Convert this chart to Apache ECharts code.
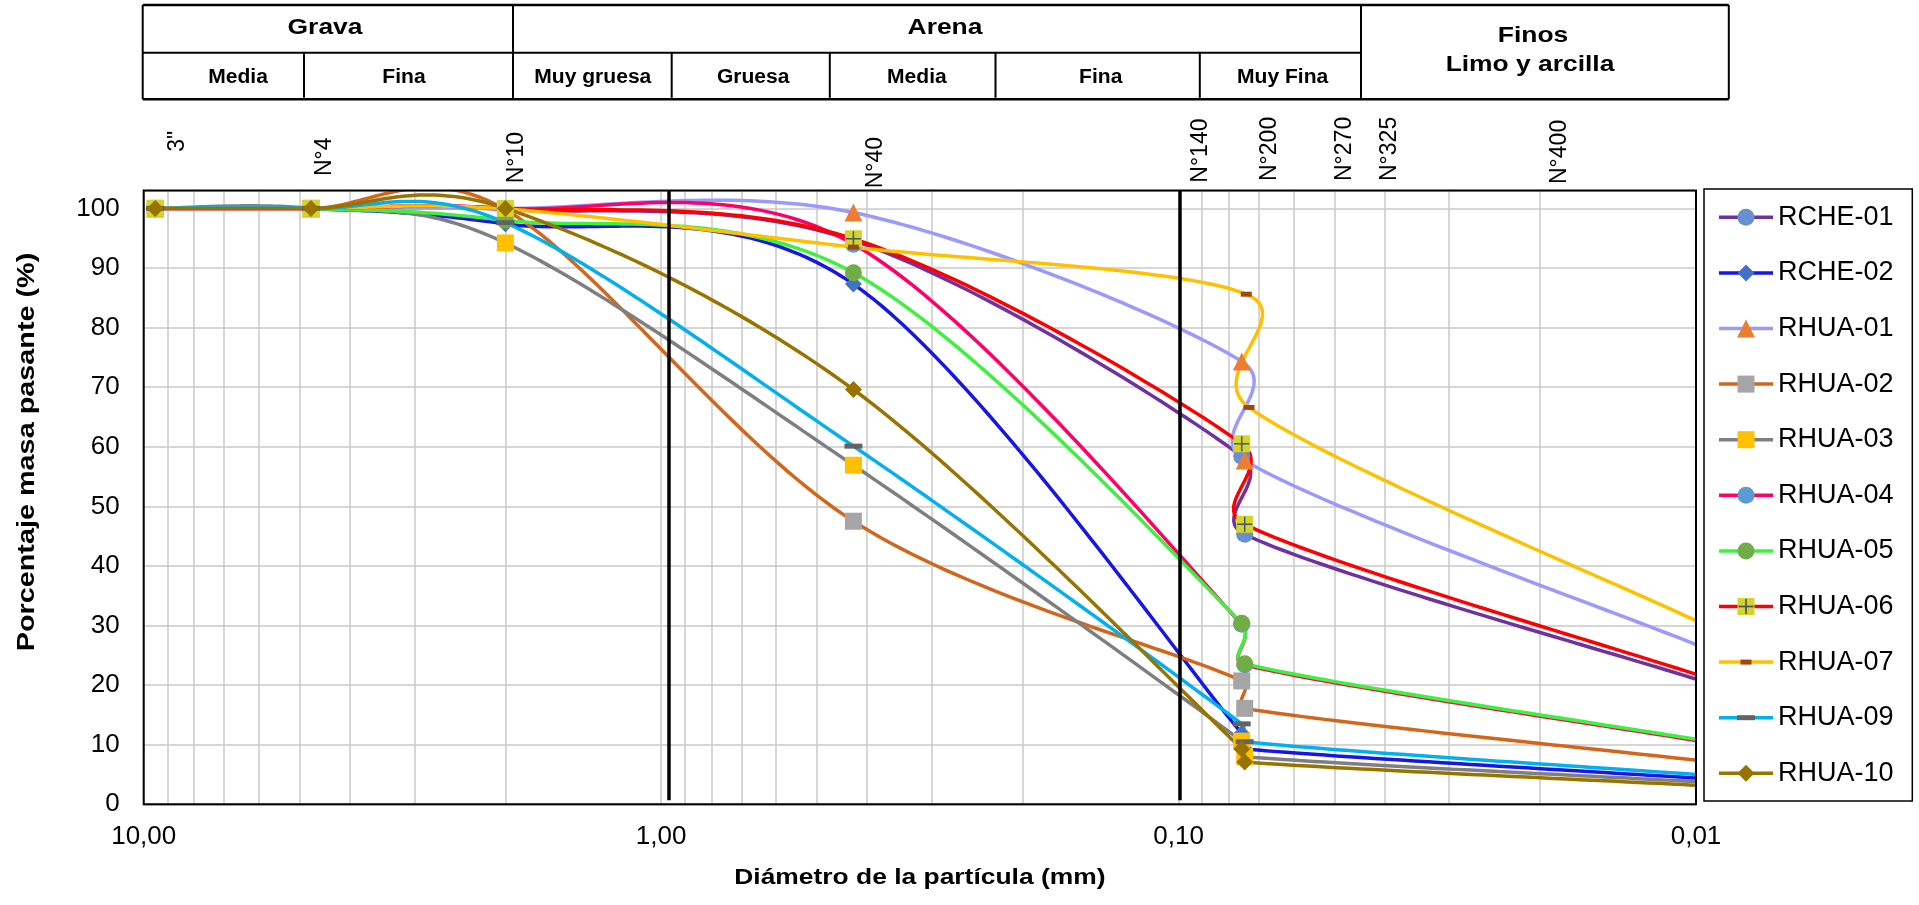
<!DOCTYPE html>
<html>
<head>
<meta charset="utf-8">
<script src="https://cdn.jsdelivr.net/npm/echarts@6/dist/echarts.min.js"></script>
<style>html,body{margin:0;padding:0;background:#fff}#c{width:1919px;height:905px}</style>
</head>
<body>
<div id="c"></div>
<script>
// ---------------- DATA ----------------
const sampleNames = ['RCHE-01','RCHE-02','RHUA-01','RHUA-02','RHUA-03','RHUA-04','RHUA-05','RHUA-06','RHUA-07','RHUA-09','RHUA-10'];
// particle diameters (mm) of the sieves used
const diameters       = [9.5, 4.75, 2.0, 0.425, 0.0755, 0.0745, 0.01];
const diametersRHUA07 = [9.5, 4.75, 2.0, 0.425, 0.0740, 0.0731, 0.01];
// percent passing
const RCHE01 = [100, 100, 99.8, 94.6, 58.4, 45.3, 21.0];
const RCHE02 = [100, 100, 97.4, 87.3, 11.9,  9.3,  4.4];
const RHUA01 = [100, 100, 100,  99.3, 74.3, 57.7, 26.8];
const RHUA02 = [100, 100, 99.8, 47.5, 20.7, 16.1,  7.4];
const RHUA03 = [100, 100, 94.2, 56.9, 10.6,  8.0,  3.8];
const RHUA04 = [100, 100, 100,  94.0, 30.2, 23.4, 10.7];
const RHUA05 = [100, 100, 98.0, 89.2, 30.4, 23.6, 10.9];
const RHUA06 = [100, 100, 100,  94.9, 60.5, 47.0, 21.8];
const RHUA07 = [100, 100, 99.9, 93.5, 85.6, 66.6, 30.8];
const RHUA09 = [100, 100, 97.6, 60.1, 13.5, 10.5,  5.0];
const RHUA10 = [100, 100, 100,  69.6,  9.3,  7.1,  3.2];
const sampleValues = [RCHE01, RCHE02, RHUA01, RHUA02, RHUA03, RHUA04, RHUA05, RHUA06, RHUA07, RHUA09, RHUA10];
const sampleDiameters = [diameters, diameters, diameters, diameters, diameters, diameters, diameters, diameters, diametersRHUA07, diameters, diameters];
// minor log grid lines (mm)
const minorGridDiameters = [2,3,4,5,6,7,8,9, 0.2,0.3,0.4,0.5,0.6,0.7,0.8,0.9, 0.02,0.03,0.04,0.05,0.06,0.07,0.08,0.09];
// black boundary lines (mm)
const boundaryDiameters = [0.965, 0.0993];
// texts
const sieveLabels = ['3"','N°4','N°10','N°40','N°140','N°200','N°270','N°325','N°400'];
const tableTop = ['Grava','Arena'];
const tableSub = ['Media','Fina','Muy gruesa','Gruesa','Media','Fina','Muy Fina'];
const tableFines = ['Finos','Limo y arcilla'];

// ---------------- STYLES / LAYOUT ----------------
const FONT = '"Liberation Sans", Arial, Helvetica, sans-serif';
const W = 1919, H = 905;
const GRID = {left: 143.7, top: 190.5, right: 223, bottom: 100.7};
const LINE_W = 3.5;
const styles = [
  {line:'#7030A0', sym:'circle',   mc:'#6A8ED2', size:17},
  {line:'#1616E6', sym:'diamond',  mc:'#4472C4', size:17},
  {line:'#9999FF', sym:'triangle', mc:'#ED7D31', size:18},
  {line:'#D4661C', sym:'rect',     mc:'#A5A5A5', size:17},
  {line:'#7F7F7F', sym:'rect',     mc:'#FFC000', size:17},
  {line:'#FF0066', sym:'circle',   mc:'#5B9BD5', size:17},
  {line:'#3CF23C', sym:'circle',   mc:'#70AD47', size:17},
  {line:'#FF0000', sym:'rect',     mc:'#D4D42A', size:17, plus:'#44546A'},
  {line:'#FFC000', sym:'rect',     mc:'#9E480E', size:[11,5]},
  {line:'#00B0F0', sym:'rect',     mc:'#636363', size:[18,5]},
  {line:'#997300', sym:'diamond',  mc:'#997300', size:17}
];
const PLUS_PATH = 'path://M0,9L20,9L20,11L0,11Z M9,0L11,0L11,20L9,20Z';

// Excel-like smoothed line (Bezier through points, tension 1/6, capped)
function excelSmooth(pts) {
  const n = pts.length, out = [pts[0]];
  for (let i = 0; i < n - 1; i++) {
    const p0 = pts[Math.max(i - 1, 0)], p1 = pts[i], p2 = pts[i + 1], p3 = pts[Math.min(i + 2, n - 1)];
    const seg = Math.hypot(p2[0] - p1[0], p2[1] - p1[1]);
    let t1 = [(p2[0] - p0[0]) / 6, (p2[1] - p0[1]) / 6];
    let t2 = [(p3[0] - p1[0]) / 6, (p3[1] - p1[1]) / 6];
    const cap = seg / 2;
    const l1 = Math.hypot(t1[0], t1[1]); if (l1 > cap) t1 = [t1[0] * cap / l1, t1[1] * cap / l1];
    const l2 = Math.hypot(t2[0], t2[1]); if (l2 > cap) t2 = [t2[0] * cap / l2, t2[1] * cap / l2];
    const c1 = [p1[0] + t1[0], p1[1] + t1[1]], c2 = [p2[0] - t2[0], p2[1] - t2[1]];
    const N = 40;
    for (let k = 1; k <= N; k++) {
      const t = k / N, u = 1 - t;
      const a = u*u*u, b = 3*u*u*t, c = 3*u*t*t, d = t*t*t;
      out.push([a*p1[0] + b*c1[0] + c*c2[0] + d*p2[0], a*p1[1] + b*c1[1] + c*c2[1] + d*p2[1]]);
    }
  }
  return out;
}

const chart = echarts.init(document.getElementById('c'), null, {renderer: 'canvas', width: W, height: H});

const series = [];
series.push({
  type: 'line', data: [], silent: true, z: 1,
  markLine: {
    silent: true, z: 1, symbol: ['none','none'], label: {show: false}, animation: false,
    lineStyle: {color: '#C9C9C9', width: 1.5, type: 'solid'},
    emphasis: {disabled: true},
    data: minorGridDiameters.map(v => ({xAxis: v}))
  }
});

sampleNames.forEach((name, i) => {
  const xs = sampleDiameters[i], ys = sampleValues[i], st = styles[i];
  const pts = xs.map((x, j) => [x, ys[j]]);
  series.push({
    type: 'custom', name: name, coordinateSystem: 'cartesian2d', silent: true, z: 2,
    data: pts, encode: {x: 0, y: 1},
    renderItem: function (params, api) {
      if (params.dataIndex !== 0) return null;
      const px = pts.map(p => api.coord(p));
      const cs = params.coordSys;
      return {
        type: 'polyline',
        shape: {points: excelSmooth(px)},
        style: {stroke: st.line, lineWidth: LINE_W, fill: 'none', lineJoin: 'round', lineCap: 'round'},
        clipPath: {type: 'rect', shape: {x: cs.x, y: cs.y, width: cs.width, height: cs.height}},
        silent: true
      };
    }
  });
  series.push({
    type: 'line', name: name, data: pts.slice(0, pts.length - 1), silent: true, z: 2,
    symbol: st.sym, symbolSize: st.size, showAllSymbol: true,
    itemStyle: {color: st.mc, borderWidth: 0},
    lineStyle: {opacity: 0, width: 0},
    emphasis: {disabled: true}, animation: false
  });
  if (st.plus) {
    series.push({
      type: 'line', name: name + ' +', data: pts.slice(0, pts.length - 1), silent: true, z: 2,
      symbol: PLUS_PATH, symbolSize: 15, showAllSymbol: true,
      itemStyle: {color: st.plus, borderWidth: 0},
      lineStyle: {opacity: 0, width: 0},
      emphasis: {disabled: true}, animation: false
    });
  }
});

series.push({
  type: 'line', data: [], silent: true, z: 10,
  markLine: {
    silent: true, z: 10, symbol: ['none','none'], label: {show: false}, animation: false,
    lineStyle: {color: '#000', width: 3.5, type: 'solid'},
    emphasis: {disabled: true},
    data: boundaryDiameters.map(v => [{coord: [v, 0.7]}, {coord: [v, 103]}])
  }
});

// ---------------- GRAPHIC (table, sieve labels, titles, legend, frame) ----------------
const g = [];
const plotW = W - GRID.left - GRID.right, plotH = H - GRID.top - GRID.bottom;
function line(x1, y1, x2, y2, w, color, z) {
  g.push({type: 'line', z: z || 50, silent: true, shape: {x1, y1, x2, y2}, style: {stroke: color || '#000', lineWidth: w || 2}});
}
function text(str, x, y, font, opts) {
  opts = opts || {};
  g.push({
    type: 'text', z: 50, silent: true, x: x, y: y,
    rotation: opts.rotation || 0, scaleX: opts.scaleX || 1, scaleY: 1,
    style: {text: str, font: font, fill: '#000', textAlign: opts.align || 'center',
            verticalAlign: 'middle', textVerticalAlign: 'middle'}
  });
}
// plot frame
g.push({type: 'rect', z: 60, silent: true, shape: {x: GRID.left, y: GRID.top, width: plotW, height: plotH},
        style: {fill: 'none', stroke: '#000', lineWidth: 2}});

// table
const TL = 142.7, TR = 1728.8, TT = 5, TM = 52.7, TB = 99.3;
line(TL, TT, TR, TT, 2.5); line(TL, TM, 1361, TM, 2); line(TL, TB, TR, TB, 2.5);
[TL, 513, 1361, TR].forEach(x => line(x, TT, x, TB, 2));
[304, 671.7, 829.8, 995.5, 1199.8].forEach(x => line(x, TM, x, TB - 1.5, 2));
const BOLD22 = 'bold 22px ' + FONT, BOLD19 = 'bold 19.5px ' + FONT;
text(tableTop[0], 325, 28, BOLD22, {scaleX: 1.2});
text(tableTop[1], 945, 28, BOLD22, {scaleX: 1.2});
text(tableFines[0], 1533, 36.3, BOLD22, {scaleX: 1.2});
text(tableFines[1], 1530, 64.7, BOLD22, {scaleX: 1.2});
const subX = [238, 404, 592.8, 753.2, 916.9, 1100.7, 1282.6];
tableSub.forEach((s, i) => text(s, subX[i], 78, BOLD19, {scaleX: 1.08}));

// sieve labels
const sieveX = [177.6, 324.5, 516.2, 875.7, 1200.8, 1269.2, 1344.8, 1389.2, 1559.2];
const sieveY = [151.7, 176, 183.3, 188.3, 182.7, 181, 181, 181, 184];
sieveLabels.forEach((s, i) => text(s, sieveX[i], sieveY[i], '23px ' + FONT, {rotation: Math.PI / 2, align: 'left'}));

// axis titles
text('Diámetro de la partícula (mm)', GRID.left + plotW / 2, 878, BOLD22, {scaleX: 1.2});
text('Porcentaje masa pasante (%)', 27, 452, 'bold 24px ' + FONT, {scaleX: 1.2, rotation: Math.PI / 2});

// legend
g.push({type: 'rect', z: 50, silent: true, shape: {x: 1704, y: 189, width: 208.3, height: 612},
        style: {fill: '#fff', stroke: '#000', lineWidth: 1.5}});
sampleNames.forEach((name, i) => {
  const st = styles[i], cy = 217.3 + i * 55.6, cx = 1746;
  g.push({type: 'line', z: 51, silent: true, shape: {x1: 1719, y1: cy, x2: 1773, y2: cy}, style: {stroke: st.line, lineWidth: LINE_W}});
  let sym;
  const s = Array.isArray(st.size) ? st.size : [st.size, st.size];
  if (st.sym === 'circle') sym = {type: 'circle', shape: {cx: cx, cy: cy, r: s[0] / 2}};
  else if (st.sym === 'rect') sym = {type: 'rect', shape: {x: cx - s[0] / 2, y: cy - s[1] / 2, width: s[0], height: s[1]}};
  else if (st.sym === 'triangle') sym = {type: 'polygon', shape: {points: [[cx, cy - s[1] / 2], [cx + s[0] / 2, cy + s[1] / 2], [cx - s[0] / 2, cy + s[1] / 2]]}};
  else sym = {type: 'polygon', shape: {points: [[cx, cy - s[1] / 2], [cx + s[0] / 2, cy], [cx, cy + s[1] / 2], [cx - s[0] / 2, cy]]}};
  sym.z = 52; sym.silent = true; sym.style = {fill: st.mc};
  g.push(sym);
  if (st.plus) {
    g.push({type: 'rect', z: 53, silent: true, shape: {x: cx - 7.5, y: cy - 0.85, width: 15, height: 1.7}, style: {fill: st.plus}});
    g.push({type: 'rect', z: 53, silent: true, shape: {x: cx - 0.85, y: cy - 7.5, width: 1.7, height: 15}, style: {fill: st.plus}});
  }
  g.push({type: 'text', z: 52, silent: true, x: 1778, y: cy,
          style: {text: name, font: '27px ' + FONT, fill: '#000', textAlign: 'left', verticalAlign: 'middle', textVerticalAlign: 'middle'}});
});

chart.setOption({
  animation: false,
  backgroundColor: '#fff',
  grid: {left: GRID.left, right: GRID.right, top: GRID.top, bottom: GRID.bottom, containLabel: false, show: false},
  xAxis: {
    type: 'log', logBase: 10, min: 0.01, max: 10, inverse: true,
    axisLine: {show: false}, axisTick: {show: false},
    axisLabel: {color: '#000', fontFamily: FONT, fontSize: 26, margin: 20,
                formatter: v => Number(v).toFixed(2).replace('.', ',')},
    splitLine: {show: true, lineStyle: {color: '#C9C9C9', width: 1.5}}
  },
  yAxis: {
    type: 'value', min: 0, max: 103, interval: 10,
    axisLine: {show: false}, axisTick: {show: false},
    axisLabel: {color: '#000', fontFamily: FONT, fontSize: 26, margin: 24,
                formatter: v => (v > 100 ? '' : String(v))},
    splitLine: {show: true, lineStyle: {color: '#C9C9C9', width: 1.5}}
  },
  series: series,
  graphic: {elements: g}
});
</script>
</body>
</html>
